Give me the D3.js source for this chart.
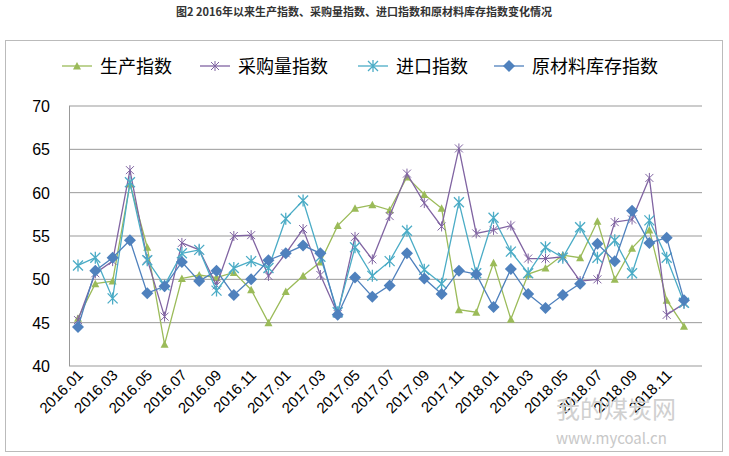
<!DOCTYPE html>
<html><head><meta charset="utf-8">
<script src="https://cdn.jsdelivr.net/npm/d3@7"></script>
<style>body{margin:0;background:#fff;font-family:"Noto Sans CJK SC",sans-serif}.num{font-family:"Liberation Sans",Arial,sans-serif}</style>
</head><body><svg width="729" height="456"></svg>
<script>
// Monthly indices, 2016.01 - 2018.12
const months = d3.range(36).map(i => `${2016 + Math.floor(i / 12)}.${String(i % 12 + 1).padStart(2, "0")}`);
const production = [45.5,49.5,49.8,61,53.7,42.5,50.1,50.5,50.2,50.8,48.8,45,48.6,50.4,52,56.2,58.2,58.6,58,61.8,59.8,58.2,46.5,46.2,51.9,45.4,50.6,51.3,52.8,52.5,56.7,50,53.6,55.7,47.6,44.6];
const purchase = [45.3,50.7,52.1,62.6,52.3,45.7,54.2,53.4,49.3,55,55.1,50.4,53,55.8,50.5,46,54.9,52.3,57.3,62.2,58.8,56.1,65.1,55.3,55.7,56.2,52.4,52.4,52.6,49.8,50,56.6,56.9,61.7,45.9,47.2];
const imports = [51.6,52.5,47.8,61.2,52.2,49.3,53,53.4,48.7,51.3,52.1,51.3,57,59.1,52.6,46.2,53.7,50.4,52.1,55.6,51.1,49.5,58.9,50.7,57.1,53.2,50.7,53.7,52.5,56,52.5,54.5,50.7,56.8,52.5,47.3];
const stock = [44.5,51,52.5,54.5,48.4,49.2,52,49.8,51,48.2,50,52.2,53,53.9,53,45.9,50.2,48,49.3,53,50.1,48.3,51,50.6,46.8,51.2,48.3,46.7,48.2,49.5,54.1,52.1,57.9,54.2,54.8,47.6];
const yTicks = [40,45,50,55,60,65,70];

const series = [
  {name: "生产指数", values: production, color: "#9bbb59", shape: "tri"},
  {name: "采购量指数", values: purchase, color: "#8064a2", shape: "star"},
  {name: "进口指数", values: imports, color: "#4bacc6", shape: "ast"},
  {name: "原材料库存指数", values: stock, color: "#4f81bd", shape: "dia"}
];

const svg = d3.select("svg");

svg.append("text").attr("x", 364).attr("y", 16).attr("text-anchor", "middle")
  .style("font-size", "11px").style("font-weight", "bold").attr("fill", "#333")
  .text("图2  2016年以来生产指数、采购量指数、进口指数和原材料库存指数变化情况");

svg.append("rect").attr("x", 5.5).attr("y", 40.5).attr("width", 717).attr("height", 411)
  .attr("fill", "none").attr("stroke", "#bbb");

const x = d3.scalePoint().domain(months).range([78, 684]);
const y = d3.scaleLinear().domain([40, 70]).range([366, 106]);

// gridlines
svg.append("g").selectAll("line").data(yTicks).join("line")
  .attr("x1", 69).attr("x2", 702).attr("y1", d => y(d)).attr("y2", d => y(d))
  .attr("stroke", "#999").attr("stroke-width", 1);
svg.append("line").attr("x1", 69.5).attr("x2", 69.5).attr("y1", 106).attr("y2", 366).attr("stroke", "#999");

svg.append("g").selectAll("text").data(yTicks).join("text").attr("class", "num")
  .attr("x", 50).attr("y", d => y(d) + 6).attr("text-anchor", "end")
  .style("font-size", "16px").attr("fill", "#000").text(d => d);

svg.append("g").selectAll("text").data(months.filter((m, i) => i % 2 === 0)).join("text").attr("class", "num")
  .attr("transform", d => `translate(${x(d) + 6},${376}) rotate(-45)`)
  .attr("text-anchor", "end").style("font-size", "15px").attr("fill", "#000").text(d => d);

function marker(g, shape, color) {
  if (shape === "tri") g.append("path").attr("d", "M0,-4L4,3.5L-4,3.5Z").attr("fill", color);
  else if (shape === "dia") g.append("path").attr("d", "M0,-6L6,0L0,6L-6,0Z").attr("fill", color);
  else if (shape === "star") g.append("path").attr("d", "M-4,-4L4,4M-4,4L4,-4M0,-5L0,5").attr("stroke", color).attr("stroke-width", 1);
  else g.append("path").attr("d", "M-5,-5L5,5M-5,5L5,-5M0,-6L0,6").attr("stroke", color).attr("stroke-width", 1.3);
}

const line = d3.line().x((d, i) => x(months[i])).y(d => y(d));
series.forEach(s => {
  svg.append("path").datum(s.values).attr("d", line)
    .attr("fill", "none").attr("stroke", s.color).attr("stroke-width", 1.3);
  s.values.forEach((v, i) => {
    marker(svg.append("g").attr("transform", `translate(${x(months[i])},${y(v)})`), s.shape, s.color);
  });
});

// legend
const lx = [62, 200, 358, 494];
series.forEach((s, i) => {
  const g = svg.append("g").attr("transform", `translate(${lx[i]},66)`);
  g.append("line").attr("x1", 0).attr("x2", 30).attr("stroke", s.color).attr("stroke-width", 1.3);
  marker(g.append("g").attr("transform", "translate(15,0)"), s.shape, s.color);
  g.append("text").attr("x", 38).attr("y", 7).style("font-size", "18px").attr("fill", "#000").text(s.name);
});

// watermark
svg.append("text").attr("x", 556).attr("y", 418).style("font-size", "24px").attr("fill", "#d0d0d0").text("我的煤炭网");
svg.append("text").attr("x", 556).attr("y", 444).style("font-size", "15px").attr("fill", "#c8c8c8").text("www.mycoal.cn");
</script></body></html>
